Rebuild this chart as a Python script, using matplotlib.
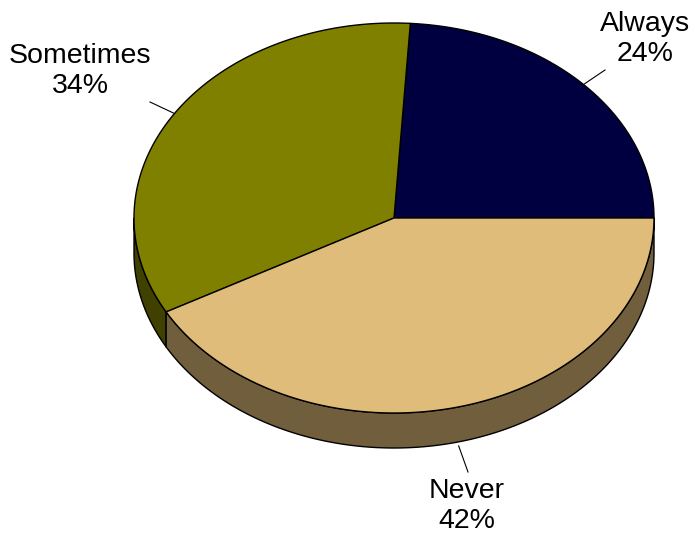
import numpy as np
import matplotlib.pyplot as plt
from matplotlib.patches import Polygon

plt.rcParams['font.family'] = ['Liberation Sans', 'DejaVu Sans']

# data
labels = ["Always", "Sometimes", "Never"]
shares = [24, 34, 42]
top_colors = ["#000040", "#808000", "#DFBC7A"]
side_colors = ["#000020", "#404000", "#705E3D"]

# layout (pixel coords)
cx, cy = 394, 218
rx, ry = 260, 195
depth = 35
label_pos = [(645, 39), (80, 71), (467, 506)]
leader_ends = [(605, 70), (150, 102), (468, 472)]


def ell(t, dy=0.0):
    return cx + rx * np.cos(t), cy - ry * np.sin(t) + dy


fig = plt.figure(figsize=(6.95, 5.34), dpi=100)
ax = fig.add_axes([0, 0, 1, 1])
ax.set_xlim(0, 695)
ax.set_ylim(534, 0)
ax.axis('off')

cum = np.concatenate([[0], np.cumsum(shares)]) / 100.0 * 2 * np.pi

# side walls (only the front half is visible)
for i in range(len(shares)):
    lo = max(cum[i], np.pi)
    hi = min(cum[i + 1], 2 * np.pi)
    if hi <= lo:
        continue
    t = np.linspace(lo, hi, 200)
    x1, y1 = ell(t)
    x2, y2 = ell(t[::-1], depth)
    pts = np.column_stack([np.concatenate([x1, x2]), np.concatenate([y1, y2])])
    ax.add_patch(Polygon(pts, closed=True, facecolor=side_colors[i],
                         edgecolor='black', linewidth=1.0, joinstyle='round'))

# top faces
for i in range(len(shares)):
    t = np.linspace(cum[i], cum[i + 1], 300)
    x, y = ell(t)
    pts = np.column_stack([np.concatenate([[cx], x]), np.concatenate([[cy], y])])
    ax.add_patch(Polygon(pts, closed=True, facecolor=top_colors[i],
                         edgecolor='black', linewidth=1.0, joinstyle='round'))

# labels with leader lines
for i in range(len(shares)):
    mid = (cum[i] + cum[i + 1]) / 2
    dy = depth if np.sin(mid) < 0 else 0
    sx, sy = ell(mid, dy + (4 if dy else 0))
    ex, ey = leader_ends[i]
    ax.plot([sx, ex], [sy, ey], color='black', linewidth=0.8)
    ax.text(label_pos[i][0], label_pos[i][1], f"{labels[i]}\n{shares[i]}%",
            ha='center', va='center', fontsize=20.5, linespacing=1.22)

fig.savefig("out.png", dpi=100)
